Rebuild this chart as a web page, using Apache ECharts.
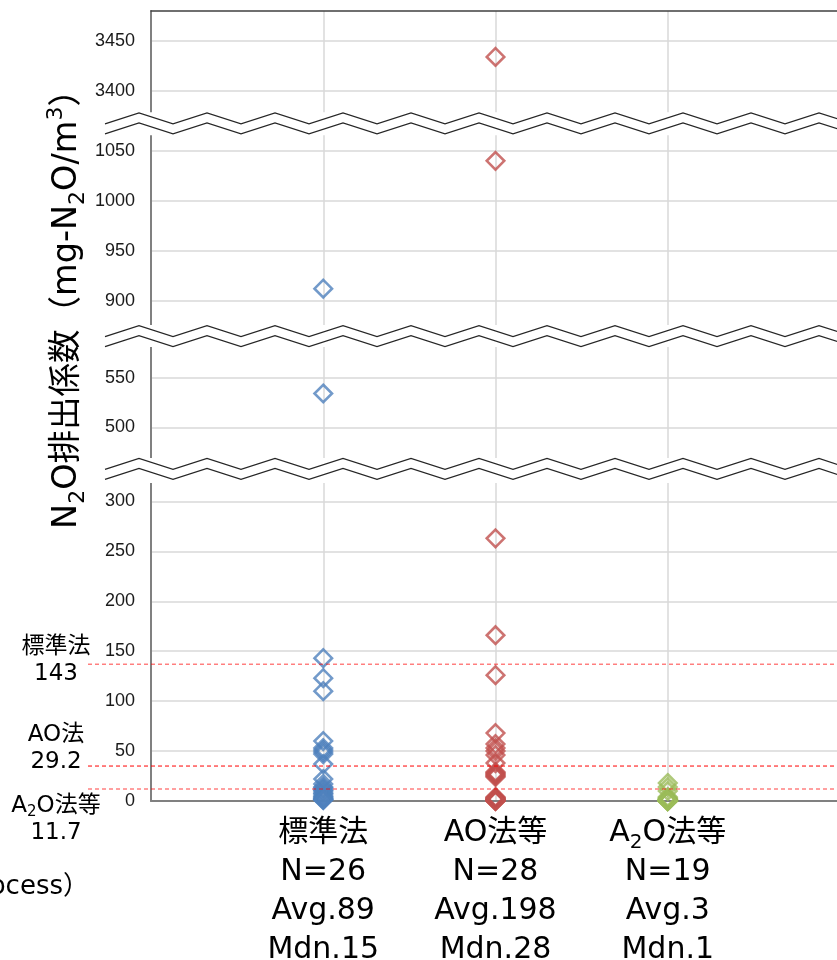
<!DOCTYPE html>
<html><head><meta charset="utf-8">
<script src="https://cdn.jsdelivr.net/npm/echarts@6/dist/echarts.min.js"></script>
<style>html,body{margin:0;padding:0;background:#fff}#c{width:837px;height:960px}</style>
</head><body><div id="c"></div>
<script>
// ---- data ----
const categoryNames = ['標準法', 'AO法等', 'A{sub|2}O法等'];
const categoryStats = [
  ['N=26', 'Avg.89', 'Mdn.15'],
  ['N=28', 'Avg.198', 'Mdn.28'],
  ['N=19', 'Avg.3', 'Mdn.1']
];
const categoryX = [1, 2, 3];
const standardValues = [912, 534, 143, 123, 110, 60, 53, 51, 49, 47, 37, 22, 17, 14, 13, 11, 10, 8, 7, 5, 4, 3, 2, 2, 1, 1];
const aoValues = [3434, 1040, 263, 166, 126, 68, 57, 53, 50, 46, 38, 29, 28, 27, 26, 25, 24, 4, 3, 3, 2, 2, 1, 1, 1, 0, 0, 0];
const a2oValues = [18, 14, 10, 4, 3, 2, 2, 1, 1, 1, 1, 0, 0, 0, 0, 0, 0, 0, 0];
const seriesColors = ['#4F81BD', '#C0504D', '#9BBB59'];
const refLinePositions = [137, 35, 12];
const refLineLabels = [['標準法', '143'], ['AO法', '29.2'], ['A{sub|2}O法等', '11.7']];
const yTickValues = [0, 50, 100, 150, 200, 250, 300, 500, 550, 900, 950, 1000, 1050, 3400, 3450];
const yMin = 0, yMax = 3480;
const yBreaks = [
  { start: 319, end: 469, gap: 24 },
  { start: 581, end: 875, gap: 21 },
  { start: 1066, end: 3378, gap: 22 }
];

const FONT = '"DejaVu Sans", "Noto Sans CJK JP", sans-serif';
const chart = echarts.init(document.getElementById('c'), null, { renderer: 'canvas' });

function scatter(vals, x, color) {
  return {
    type: 'scatter',
    data: vals.map(v => [x, v]),
    symbol: 'diamond',
    symbolSize: 17.5,
    silent: true,
    itemStyle: { color: 'rgba(0,0,0,0)', borderColor: color, borderWidth: 2.6 },
    z: 5
  };
}

chart.setOption({
  animation: false,
  backgroundColor: '#fff',
  grid: { left: 151, top: 11, width: 689, bottom: 159, containLabel: false, outerBoundsMode: 'none' },
  xAxis: [{
    type: 'value', min: 0, max: 4, interval: 1, position: 'bottom',
    axisLine: { show: true, onZero: false, lineStyle: { color: '#808080', width: 2 } },
    axisTick: { show: false },
    splitLine: { show: true, lineStyle: { color: '#d9d9d9', width: 1.5 } },
    axisLabel: {
      margin: 13, fontSize: 30, lineHeight: 39, color: '#000', fontFamily: FONT,
      showMinLabel: false, showMaxLabel: false,
      formatter: v => {
        const i = categoryX.indexOf(v);
        if (i < 0) return '';
        return [categoryNames[i]].concat(categoryStats[i]).join('\n');
      },
      rich: { sub: { fontSize: 20, lineHeight: 20, verticalAlign: 'bottom', fontFamily: FONT, color: '#000' } }
    }
  }, {
    type: 'value', min: 0, max: 4, position: 'top',
    axisLine: { show: true, onZero: false, lineStyle: { color: '#404040', width: 1.5 } },
    axisTick: { show: false }, axisLabel: { show: false }, splitLine: { show: false }
  }],
  yAxis: {
    type: 'value', min: yMin, max: yMax,
    breaks: yBreaks,
    breakArea: { show: false },
    axisLine: { show: true, onZero: false, lineStyle: { color: '#808080', width: 2 } },
    axisTick: { show: false, customValues: yTickValues },
    axisLabel: {
      customValues: yTickValues,
      formatter: v => String(v),
      fontFamily: '"Liberation Sans", Arial, sans-serif', fontSize: 18, color: '#1a1a1a', margin: 16
    },
    splitLine: { show: true, lineStyle: { color: '#d9d9d9', width: 1.5 } }
  },
  series: [
    scatter(standardValues, categoryX[0], seriesColors[0]),
    scatter(aoValues, categoryX[1], seriesColors[1]),
    scatter(a2oValues, categoryX[2], seriesColors[2])
  ]
});

// overlay: break zigzags, reference lines, annotations, titles
const graphics = [];
const zzStep = 34, zzAmp = 11, zzOffset = 10, zzStartX = 105;
yBreaks.forEach(b => {
  const yTop = chart.convertToPixel({ yAxisIndex: 0 }, b.end);
  const yBot = chart.convertToPixel({ yAxisIndex: 0 }, b.start);
  graphics.push({
    type: 'rect', silent: true, z: 20,
    shape: { x: 148, y: yTop - 0.5, width: 700, height: yBot - yTop + 1 },
    style: { fill: '#fff' }
  });
  [0, zzOffset].forEach(off => {
    const pts = [];
    for (let k = 0, x = zzStartX; x <= 860; k++, x += zzStep) {
      pts.push([x, yTop + off + (k % 2 === 0 ? zzAmp : 0)]);
    }
    graphics.push({
      type: 'polyline', silent: true, z: 21,
      shape: { points: pts },
      style: { stroke: '#262626', lineWidth: 1.2, fill: null }
    });
  });
});
refLinePositions.forEach((v, i) => {
  const py = chart.convertToPixel({ yAxisIndex: 0 }, v);
  graphics.push({
    type: 'line', silent: true, z: 10,
    shape: { x1: 88, y1: py, x2: 837, y2: py },
    style: { stroke: i === 1 ? '#ff0000' : 'rgba(255,0,0,0.75)', lineWidth: 1, lineDash: [4, 3] }
  });
});
const annotY = [[647, 674], [736, 762], [806, 833]];
refLineLabels.forEach((lab, i) => {
  graphics.push({
    type: 'text', silent: true, x: 56, y: (annotY[i][0] + annotY[i][1]) / 2,
    style: {
      text: lab.join('\n'), align: 'center', verticalAlign: 'middle',
      fontSize: 23, lineHeight: 27, fontFamily: FONT, fill: '#000',
      rich: { sub: { fontSize: 15, lineHeight: 15, verticalAlign: 'bottom', fontFamily: FONT, fill: '#000' } }
    }
  });
});
graphics.push({
  type: 'text', silent: true, x: 67.5, y: 301, rotation: Math.PI / 2,
  style: {
    text: 'N{sub|2}O排出係数（mg-N{sub|2}O/m{sup|3}）', align: 'center', verticalAlign: 'middle',
    fontSize: 33.5, lineHeight: 44, fontFamily: FONT, fill: '#000',
    rich: {
      sub: { fontSize: 22, lineHeight: 23, verticalAlign: 'bottom', fontFamily: FONT, fill: '#000' },
      sup: { fontSize: 22, lineHeight: 23, verticalAlign: 'top', fontFamily: FONT, fill: '#000' }
    }
  }
});
graphics.push({
  type: 'text', silent: true, x: 89, y: 887,
  style: { text: 'ocess）', align: 'right', verticalAlign: 'middle', fontSize: 26, fontFamily: FONT, fill: '#000' }
});
chart.setOption({ graphic: graphics });
</script>
</body></html>
